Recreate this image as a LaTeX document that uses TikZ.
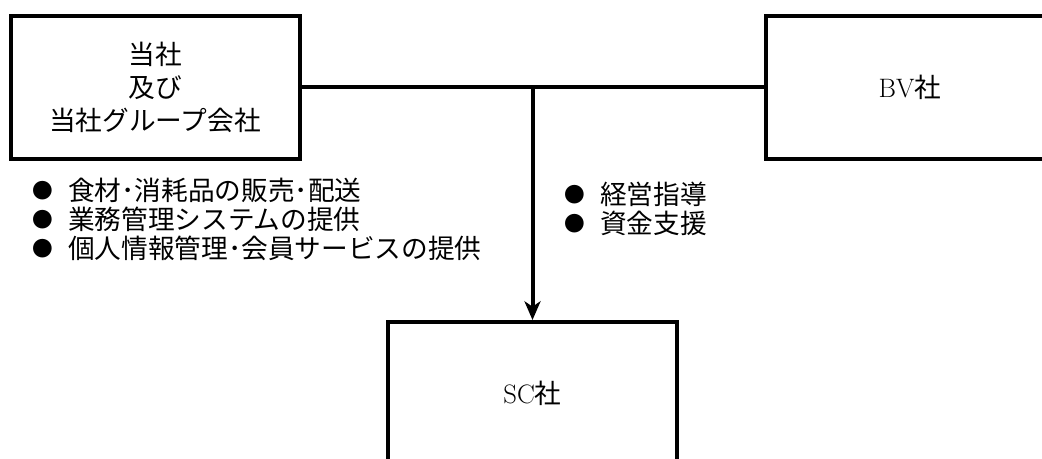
\documentclass[tikz,border=0pt]{standalone}
\usepackage{fontspec}
\newfontfamily\jpfont{Noto Sans CJK JP}
\usetikzlibrary{arrows.meta}
\newcommand{\bul}{\makebox[27pt][l]{\raisebox{1.5pt}{\fontsize{15.5pt}{15.5pt}\selectfont ●}}}

\begin{document}
\begin{tikzpicture}[x = .75pt, y = -.75pt, line width = 3pt,
    firm/.style = {draw, line width = 3pt, minimum width = 216.75pt, minimum height = 107.25pt, inner sep = 0pt, align = center, font = \fontsize{20pt}{25pt}\selectfont},
    list/.style = {anchor = west, inner sep = 0pt, align = left, font = \fontsize{20pt}{21.75pt}\selectfont\jpfont}]
    \useasboundingbox (0,0) rectangle (1042,459);
    \node[firm] (own) at (155,87.5) {\jpfont 当社\\\jpfont 及び\\\jpfont 当社グループ会社};
    \node[firm] (bv) at (910,87.5) {BV{\jpfont 社}};
    \node[firm] (sc) at (532.5,393.5) {SC{\jpfont 社}};
    \node[list] (serv) at (30,219) {\bul 食材･消耗品の販売･配送\\\bul 業務管理システムの提供\\\bul 個人情報管理･会員サービスの提供};
    \node[list] (aid) at (562,209) {\bul 経営指導\\\bul 資金支援};
    \draw (own.east) -- (bv.west);
    \draw[-{Stealth[length = 14pt, width = 12pt, inset = 4pt]}] (sc.north |- own.east) -- (sc.north);
\end{tikzpicture}
\end{document}
